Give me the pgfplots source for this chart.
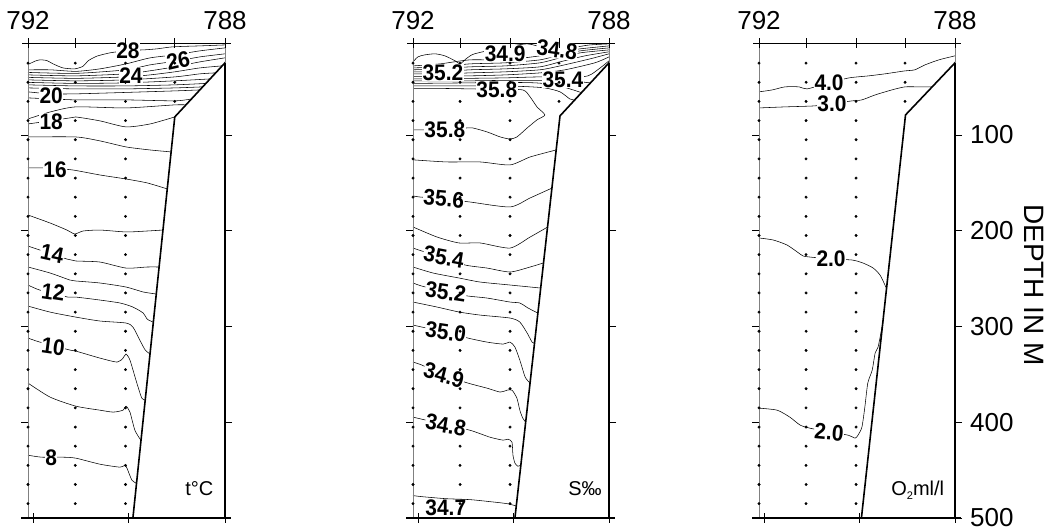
\documentclass[border=0pt]{standalone}
\usepackage{pgfplots}
\pgfplotsset{compat=1.18}
\usepackage{pgfplotstable}
\usepackage{fontspec}
\setmainfont{Liberation Sans}

\pgfplotstableread[row sep=\\]{
s d\\
0 25\\ 0 45\\ 0 65\\ 0 85\\ 0 105\\ 0 125\\ 0 145\\ 0 165\\ 0 185\\ 0 205\\ 0 225\\ 0 245\\
0 265\\ 0 285\\ 0 305\\ 0 325\\ 0 345\\ 0 365\\ 0 385\\ 0 405\\ 0 425\\ 0 445\\ 0 465\\ 0 485\\
0.96 25\\ 0.96 45\\ 0.96 65\\ 0.96 85\\ 0.96 105\\ 0.96 125\\ 0.96 145\\ 0.96 165\\ 0.96 185\\ 0.96 205\\ 0.96 225\\ 0.96 245\\
0.96 265\\ 0.96 285\\ 0.96 305\\ 0.96 325\\ 0.96 345\\ 0.96 365\\ 0.96 385\\ 0.96 405\\ 0.96 425\\ 0.96 445\\ 0.96 465\\ 0.96 485\\
1.98 25\\ 1.98 45\\ 1.98 65\\ 1.98 85\\ 1.98 105\\ 1.98 125\\ 1.98 145\\ 1.98 165\\ 1.98 185\\ 1.98 205\\ 1.98 225\\ 1.98 245\\
1.98 265\\ 1.98 285\\ 1.98 305\\ 1.98 325\\ 1.98 345\\ 1.98 365\\ 1.98 385\\ 1.98 405\\ 1.98 425\\ 1.98 445\\ 1.98 465\\ 1.98 485\\
2.98 25\\ 2.98 45\\ 2.98 65\\
}\stations

\pgfplotsset{
  panel/.style={scale only axis, width=196pt, height=475pt,
    xmin=0, xmax=4, ymin=4, ymax=500, y dir=reverse, clip=false,
    axis line style={draw=none}, xtick=\empty,
    tick align=outside, major tick length=7pt,
    ytick style={black, line width=0.7pt}, anchor=center},
  cl/.style={black, line width=0.55pt, smooth, tension=0.4, mark=none},
  topo/.style={black, line width=1.6pt, mark=none, line join=miter},
}
\tikzset{
  lab/.style={fill=white, inner sep=0.5pt, xscale=0.93, font=\fontsize{22.5}{22.5}\selectfont\bfseries},
  unit/.style={inner sep=0pt, font=\fontsize{20}{20}\selectfont},
  toplab/.style={inner sep=0pt, anchor=base, yshift=14pt, font=\fontsize{26}{26}\selectfont},
}

\newcommand\framebits{%
  \addplot[only marks, mark=*, mark size=1.25pt, black] table[x=s,y=d]{\stations};
  \addplot[gray, line width=0.5pt, mark=none] coordinates {(0,4)(0,500)};
  \addplot[gray, line width=0.5pt, mark=none] coordinates {(4,4)(4,24.7)};
  \addplot[black, line width=1pt, mark=none] coordinates {(-0.12,4)(4.12,4)};
  \addplot[black, line width=1.5pt, mark=none] coordinates {(-0.14,500)(4.12,500)};
  \addplot[only marks, mark=|, mark size=5pt, black, mark options={line width=0.8pt}] coordinates {(0,4)(0.96,4)(1.98,4)(2.98,4)(4,4)};
  \addplot[only marks, mark=|, mark size=5pt, black, mark options={line width=0.8pt}] coordinates {(0.1,500)(2.04,500)(4,500)};
  \node[toplab] at (axis cs:0,4) {792};
  \node[toplab] at (axis cs:4,4) {788};
}

\begin{document}
\begin{tikzpicture}
\path[use as bounding box] (0,0) rectangle (1048pt,531pt);

% ---------------- Temperature ----------------
\begin{axis}[panel, width=197pt, at={(126.5pt,250.5pt)},
  ytick={100,200,300,400}, yticklabels={,,,}]
\addplot[cl] coordinates {(0,26.5)(0.14,23)(0.24,21.6)(0.38,22.3)(0.51,25.8)(0.71,30)(0.95,31)(1.12,28.2)(1.22,22.6)(1.40,17.7)(1.66,14.3)(1.81,13.2)(2.03,11.7)(2.34,11.2)(2.62,10.1)(2.94,8)(3.49,7)(4,6)};
\addplot[cl] coordinates {(0,32)(0.45,32)(0.97,33.6)(1.46,31)(1.99,25.8)(2.48,19.5)(2.98,16.4)(3.49,12.2)(4,9.1)};
\addplot[cl] coordinates {(0,34.7)(0.97,35.7)(1.99,32)(2.48,26.8)(3.05,22.6)(3.49,18.5)(4,15.3)};
\addplot[cl] coordinates {(0,37.3)(0.97,38.3)(1.99,36.2)(2.48,33)(2.98,28.9)(3.49,23.7)(4,19.5)};
\addplot[cl] coordinates {(0,39.9)(0.97,40.9)(1.99,39.4)(2.48,37.3)(2.98,34.1)(3.49,30)(3.94,27.9)};
\addplot[cl] coordinates {(0,42.5)(0.97,43.5)(1.99,42.5)(2.98,39.4)(3.49,36.2)(3.81,35.2)};
\addplot[cl] coordinates {(0,45.1)(0.97,46.2)(1.99,45.6)(2.98,43.5)(3.70,41.5)};
\addplot[cl] coordinates {(0,47.7)(0.97,48.8)(1.99,48.8)(2.98,47.7)(3.61,46.2)};
\addplot[cl] coordinates {(0,50.9)(0.97,51.9)(1.99,51.9)(2.98,50.9)(3.55,49.8)};
\addplot[cl] coordinates {(0,55)(0.45,57.1)(0.97,57.1)(1.99,55.6)(2.98,54)(3.49,53)};
\addplot[cl] coordinates {(0,61.3)(0.97,63.4)(1.99,63.4)(2.98,64.4)(3.32,62.4)};
\addplot[cl] coordinates {(0,83.3)(0.45,76)(0.97,70.7)(1.99,71.8)(2.98,68.6)(3.21,68.6)};
\addplot[cl] coordinates {(0,88.5)(0.45,85.3)(0.85,82.2)(0.97,81.2)(1.46,85.3)(1.99,91.6)(2.48,88.5)(2.98,81.2)};
\addplot[cl] coordinates {(0,102.1)(0.97,102.1)(1.46,106.2)(1.99,112.5)(2.48,115.7)(2.90,117.7)};
\addplot[cl] coordinates {(0,134.5)(0.45,134.5)(0.91,136.6)(1.46,141.8)(1.99,146)(2.42,150.1)(2.83,156.4)};
\addplot[cl] coordinates {(0,183.6)(0.45,192)(0.79,199.3)(0.95,203.4)(1.12,200.3)(1.46,199.3)(1.99,201.3)(2.42,200.3)(2.74,199.3)};
\addplot[cl] coordinates {(0,216)(0.24,220.2)(0.79,229.6)(0.97,231.6)(1.46,232.7)(1.99,239)(2.42,237.9)(2.66,237.9)};
\addplot[cl] coordinates {(0,237.9)(0.45,244.2)(0.85,251.5)(0.97,252.5)(1.46,254.6)(1.99,258.8)(2.34,264)(2.61,266.1)};
\addplot[cl] coordinates {(0,256.7)(0.24,262)(0.81,269.3)(0.97,269.3)(1.46,272.4)(1.87,275.5)(2.13,279.7)(2.34,286)(2.42,292.3)(2.54,295.4)};
\addplot[cl] coordinates {(0,278.7)(0.45,285)(0.97,290.2)(1.46,294.3)(1.99,296.4)(2.13,300.6)(2.27,314.2)(2.38,324.6)(2.48,328.8)};
\addplot[cl] coordinates {(0,312.1)(0.24,316.3)(0.85,324.6)(0.97,325.7)(1.46,333)(1.81,337.2)(1.93,333)(1.99,328.8)(2.07,335.1)(2.21,359.1)(2.31,374.8)(2.38,376.9)};
\addplot[cl] coordinates {(0,359.1)(0.45,373.8)(0.97,383.2)(1.46,387.4)(1.73,389.4)(1.93,387.4)(1.99,383.2)(2.07,389.4)(2.17,408.3)(2.29,418.7)};
\addplot[cl] coordinates {(0,434.4)(0.28,436.5)(0.71,436.5)(0.97,437.5)(1.46,443.8)(1.87,446.9)(1.97,444.8)(2.01,448)(2.11,460.5)(2.2,463.6)};
\addplot[topo] coordinates {(2.13,500)(2.98,81.2)(4,24.7)(4,500)};
\framebits
\node[lab] at (axis cs:2.03,12.2) {28};
\node[lab, rotate=12] at (axis cs:3.05,22.6) {26};
\node[lab] at (axis cs:2.09,38.3) {24};
\node[lab] at (axis cs:0.47,59.2) {20};
\node[lab] at (axis cs:0.47,86.4) {18};
\node[lab] at (axis cs:0.55,136.6) {16};
\node[lab, rotate=-12] at (axis cs:0.49,224.3) {14};
\node[lab, rotate=-8] at (axis cs:0.51,264) {12};
\node[lab, rotate=-8] at (axis cs:0.51,321.5) {10};
\node[lab] at (axis cs:0.47,437.5) {8};
\node[unit] at (axis cs:3.48,468.8) {t°C};
\end{axis}

% ---------------- Salinity ----------------
\begin{axis}[panel, at={(511pt,250.5pt)},
  ytick={100,200,300,400}, yticklabels={,,,}]
\addplot[cl] coordinates {(0,23.7)(0.10,18.5)(0.24,16.4)(0.45,15.3)(0.65,17.4)(0.86,22.6)(0.96,25.8)(1.08,20.6)(1.20,16.4)(1.33,14.3)(1.88,8)(2.33,4.9)(2.53,7)(2.94,10.1)(3.35,8)(3.61,6)(4,4.9)};
\addplot[cl] coordinates {(0,27.9)(0.55,25.8)(1.16,21.6)(1.88,21.6)(2.59,17.4)(3,13.2)(3.41,10.1)(4,7)};
\addplot[cl] coordinates {(0,30)(0.55,28.9)(1.16,25.8)(1.88,24.7)(2.59,21.6)(3,16.4)(3.41,12.2)(4,9.1)};
\addplot[cl] coordinates {(0,32)(0.55,31)(1.16,28.9)(1.88,27.9)(2.59,24.7)(3,19.5)(3.41,14.3)(4,11.2)};
\addplot[cl] coordinates {(0,34.1)(0.55,34.1)(1.16,32)(1.88,31)(2.59,28.9)(3,23.7)(3.51,17.4)(4,13.2)};
\addplot[cl] coordinates {(0,36.2)(0.55,36.2)(1.16,35.2)(1.88,34.1)(2.59,32)(3,27.9)(3.61,20.6)(4,15.3)};
\addplot[cl] coordinates {(0,38.8)(0.55,38.8)(1.16,38.3)(1.88,37.3)(2.59,35.2)(3.10,32)(3.71,24.7)(4,18.5)};
\addplot[cl] coordinates {(0,41.5)(0.55,41.5)(1.16,40.9)(1.88,40.4)(2.59,39.4)(3.10,40.4)(3.57,38.3)(3.82,30)(4,22.6)};
\addplot[cl] coordinates {(0,43.5)(0.55,43.5)(1.16,43.5)(1.88,43)(2.59,43)(3.20,43.5)(3.61,45.6)};
\addplot[cl] coordinates {(0,46.2)(1.16,45.6)(1.88,45.1)(2.49,45.6)(2.90,47.7)(3.20,51.9)(3.45,56)};
\addplot[cl] coordinates {(0,48.8)(1.16,48.8)(2.18,49.3)(2.69,50.9)(3,55)(3.20,62.4)(3.30,63.4)};
\addplot[cl] coordinates {(0,51.4)(0.55,51.4)(1.16,51.9)(1.71,52.4)(2.24,53)(2.39,60.3)(2.53,70.7)(2.69,79.1)(2.53,84.3)(2.33,92.7)(2.12,102.1)(1.98,104.2)(1.78,102.1)(1.51,96.8)(1.22,92.7)(1.10,92.7)(0.65,94.8)(0.18,94.8)(0,94.8)};
\addplot[cl] coordinates {(0,126)(0.69,128.2)(1.37,128.2)(1.98,131.3)(2.39,123)(2.92,115.7)};
\addplot[cl] coordinates {(0,163.7)(0.14,164.8)(0.63,166.9)(1.16,170)(1.98,175.2)(2.39,165.8)(2.84,155.4)};
\addplot[cl] coordinates {(0,196.1)(0.49,206.6)(0.94,212.8)(1.37,212.8)(1.98,218.1)(2.39,206.6)(2.75,196.1)};
\addplot[cl] coordinates {(0,218.1)(0.18,221.2)(0.63,227.5)(1.06,235.8)(1.51,239)(1.98,243.1)(2.39,237.9)(2.66,233.7)};
\addplot[cl] coordinates {(0,237.9)(0.41,244.2)(0.94,249.4)(1.37,253.6)(1.98,256.7)(2.61,259.9)};
\addplot[cl] coordinates {(0,254.6)(0.18,257.8)(0.67,264)(1.12,268.2)(1.51,270.3)(1.98,274.5)(2.18,275.5)(2.35,280.8)(2.55,286)};
\addplot[cl] coordinates {(0,274.5)(0.49,279.7)(0.94,284.9)(1.37,288.1)(1.98,291.2)(2.18,295.4)(2.33,306.9)(2.43,316.3)(2.48,317.3)};
\addplot[cl] coordinates {(0,298.5)(0.18,300.6)(0.67,305.8)(1.12,312.1)(1.51,316.3)(1.84,318.4)(1.98,316.3)(2.08,321.5)(2.18,335.1)(2.29,352.9)(2.39,359.1)};
\addplot[cl] coordinates {(0,337.2)(0.18,340.3)(0.63,350.8)(1.12,359.1)(1.51,364.4)(1.78,368.5)(1.92,366.5)(2.02,366.5)(2.12,374.8)(2.18,387.4)(2.24,395.7)(2.30,399.9)};
\addplot[cl] coordinates {(0,394.7)(0.18,396.8)(0.67,403)(1.16,408.3)(1.57,415.6)(1.84,418.7)(1.94,417.7)(2.02,420.8)(2.04,434.4)(2.08,442.7)(2.14,445.9)(2.20,444.8)};
\addplot[cl] coordinates {(0,476.6)(0.18,477.7)(0.67,479.8)(1.16,480.8)(1.57,482.9)(1.92,485)(2.11,487.5)};
\addplot[topo] coordinates {(2.08,500)(3.0,80.1)(4,24.7)(4,500)};
\framebits
\node[lab] at (axis cs:1.88,15.3) {34.9};
\node[lab, rotate=-8] at (axis cs:2.94,11.2) {34.8};
\node[lab] at (axis cs:0.61,35.2) {35.2};
\node[lab] at (axis cs:3.06,42.5) {35.4};
\node[lab] at (axis cs:1.71,53) {35.8};
\node[lab] at (axis cs:0.65,94.8) {35.8};
\node[lab, rotate=-5] at (axis cs:0.63,166.9) {35.6};
\node[lab, rotate=-10] at (axis cs:0.63,227.5) {35.4};
\node[lab, rotate=-8] at (axis cs:0.67,264) {35.2};
\node[lab, rotate=-8] at (axis cs:0.67,305.8) {35.0};
\node[lab, rotate=-15] at (axis cs:0.63,350.8) {34.9};
\node[lab, rotate=-10] at (axis cs:0.67,403) {34.8};
\node[lab] at (axis cs:0.67,489.8) {34.7};
\node[unit] at (axis cs:3.51,468.8) {S‰};
\end{axis}

% ---------------- Oxygen ----------------
\begin{axis}[panel, at={(857pt,250.5pt)},
  ytick={100,200,300,400,500}, yticklabels={100,200,300,400,500},
  ytick pos=both, yticklabel pos=right,
  yticklabel style={inner sep=0pt, xshift=8pt, font=\fontsize{26}{26}\selectfont}]
\addplot[cl] coordinates {(0,55)(0.27,53)(0.53,49.8)(0.82,49.8)(0.98,51.9)(1.43,45.6)(1.84,40.4)(2.24,38.3)(2.57,36.2)(2.98,33.1)(3.18,32)(3.39,26.8)(3.67,21.6)(4,17.4)};
\addplot[cl] coordinates {(0,71.8)(0.53,70.7)(1.12,69.7)(1.49,67.6)(1.90,64.4)(2.10,63.4)(2.37,58.2)(2.71,53)(2.98,49.8)(3.27,49.8)(3.53,49.8)};
\addplot[cl] coordinates {(0,207.6)(0.29,209.7)(0.57,214.9)(0.78,222.2)(0.90,226.4)(1.04,227.5)(1.47,229.6)(1.90,230.6)(2.12,233.7)(2.33,239)(2.47,246.3)(2.57,256.7)(2.60,259.9)};
\addplot[cl] coordinates {(0,385.3)(0.37,387.4)(0.63,394.7)(0.84,403)(1.04,406.2)(1.43,410.3)(1.82,413.5)(1.96,416.6)(2.02,413.5)(2.10,405.1)(2.16,384.2)(2.22,359.1)(2.31,345.6)(2.37,327.8)(2.43,321.5)(2.53,295.4)};
\addplot[topo] coordinates {(2.09,500)(2.99,79.1)(4,24.7)(4,500)};
\framebits
\node[lab] at (axis cs:1.43,45.6) {4.0};
\node[lab] at (axis cs:1.49,67.6) {3.0};
\node[lab] at (axis cs:1.47,229.6) {2.0};
\node[lab, rotate=-5] at (axis cs:1.43,410.3) {2.0};
\node[unit] at (axis cs:3.24,471) {O\raisebox{-0.3ex}{\fontsize{11}{11}\selectfont 2}ml/l};
\end{axis}

\node[rotate=-90, inner sep=0pt, font=\fontsize{28}{28}\selectfont] at (1034pt,246pt) {DEPTH IN M};
\end{tikzpicture}
\end{document}
